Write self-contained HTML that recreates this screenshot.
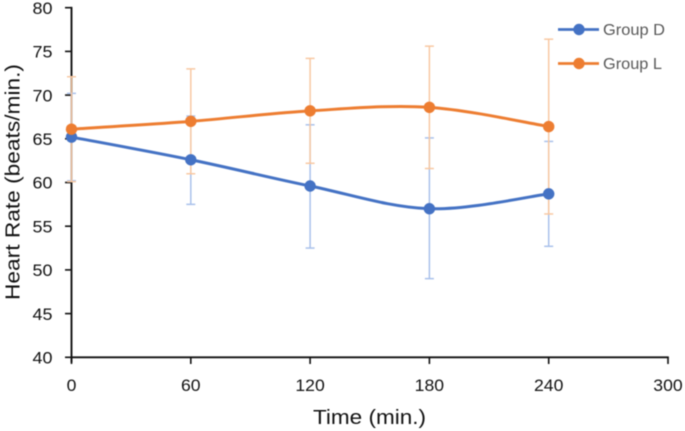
<!DOCTYPE html>
<html>
<head>
<meta charset="utf-8">
<style>
html,body{margin:0;padding:0;background:#fff;width:685px;height:431px;overflow:hidden}
svg{display:block;filter:blur(0.45px)}
text{font-family:"Liberation Sans",sans-serif}
</style>
</head>
<body>
<svg id="chart" width="685" height="431" viewBox="0 0 685 431" xmlns="http://www.w3.org/2000/svg"></svg>
<script>
const times = [0, 60, 120, 180, 240];
const groupD = [65.2, 62.6, 59.6, 57.0, 58.7];
const groupL = [66.1, 67.0, 68.2, 68.6, 66.4];
const groupDUpper = [70.2, 67.6, 66.6, 65.1, 64.7];
const groupDLower = [60.2, 57.5, 52.5, 49.0, 52.7];
const groupLUpper = [72.1, 73.0, 74.2, 75.6, 76.4];
const groupLLower = [60.1, 61.0, 62.2, 61.6, 56.4];
const xTicks = [0, 60, 120, 180, 240, 300];
const yTicks = [40, 45, 50, 55, 60, 65, 70, 75, 80];

const svg = document.getElementById('chart');
const NS = 'http://www.w3.org/2000/svg';
function xScale(v){ return 71.5 + (v - 0) * (668 - 71.5) / 300; }
function yScale(v){ return 357.3 - (v - 40) * (357.3 - 7.7) / 40; }
function make(tag, attrs, parent){
  const el = document.createElementNS(NS, tag);
  for (const k in attrs) el.setAttribute(k, attrs[k]);
  (parent || svg).appendChild(el);
  return el;
}
function smoothPath(xs, ys){
  const p = xs.map((x, i) => [xScale(x), yScale(ys[i])]);
  let d = 'M' + p[0][0] + ' ' + p[0][1];
  for (let i = 0; i < p.length - 1; i++){
    const a = p[Math.max(i - 1, 0)], b = p[i], c = p[i + 1], e = p[Math.min(i + 2, p.length - 1)];
    d += ' C' + (b[0] + (c[0] - a[0]) / 6) + ' ' + (b[1] + (c[1] - a[1]) / 6) + ' ' +
         (c[0] - (e[0] - b[0]) / 6) + ' ' + (c[1] - (e[1] - b[1]) / 6) + ' ' + c[0] + ' ' + c[1];
  }
  return d;
}

/* y axis */
const yAxis = make('g', {});


const yLine = make('line', {x1: xScale(0), x2: xScale(0), y1: yScale(80) - 0.8, y2: 362.5, stroke: '#111', 'stroke-width': 1.9}, yAxis);


yTicks.forEach(function(t){
  const tick = make('line', {x1: 65, x2: xScale(0), y1: yScale(t), y2: yScale(t), stroke: '#111', 'stroke-width': 1.6}, yAxis);
  
  
  const label = make('text', {x: 52.5, y: yScale(t) + 6.2, 'text-anchor': 'end', 'font-size': 17, fill: '#111', textLength: 20, lengthAdjust: 'spacingAndGlyphs'}, yAxis);
  label.textContent = t;
  
  
});

/* x axis */
const xAxis = make('g', {});


const xLine = make('line', {x1: xScale(0) - 1, x2: xScale(300) + 0.8, y1: yScale(40), y2: yScale(40), stroke: '#111', 'stroke-width': 1.9}, xAxis);


xTicks.forEach(function(t){
  const tick = make('line', {x1: xScale(t), x2: xScale(t), y1: yScale(40), y2: 364, stroke: '#111', 'stroke-width': 1.6}, xAxis);
  
  
  const s = String(t);
  const label = make('text', {x: xScale(t), y: 391, 'text-anchor': 'middle', 'font-size': 17, fill: '#111', textLength: s.length * 9.8, lengthAdjust: 'spacingAndGlyphs'}, xAxis);
  label.textContent = s;
  
  
});

/* series */
function drawErrors(name, upper, lower, color){
  const g = make('g', {stroke: color, 'stroke-width': 1.5, fill: 'none'});
  
  
  times.forEach(function(t, i){
    const x = xScale(t);
    make('line', {x1: x, x2: x, y1: yScale(upper[i]), y2: yScale(lower[i])}, g);
    make('line', {x1: x - 4.5, x2: x + 4.5, y1: yScale(upper[i]), y2: yScale(upper[i])}, g);
    make('line', {x1: x - 4.5, x2: x + 4.5, y1: yScale(lower[i]), y2: yScale(lower[i])}, g);
  });
}
function drawSeries(name, values, color){
  const g = make('g', {});
  
  
  make('path', {d: smoothPath(times, values), fill: 'none', stroke: color, 'stroke-width': 3, 'stroke-linecap': 'round'}, g);
  times.forEach(function(t, i){
    const c = make('circle', {cx: xScale(t), cy: yScale(values[i]), r: 5.7, fill: color}, g);
    
    
  });
}
drawErrors('group-d-error-bars', groupDUpper, groupDLower, '#A9C1EB');
drawErrors('group-l-error-bars', groupLUpper, groupLLower, '#F8C8A2');
drawSeries('group-d-series', groupD, '#4472C4');
drawSeries('group-l-series', groupL, '#ED7D31');
</script>
<script>
/* titles and legend */
(function(){
  const titleY = make('text', {transform: 'translate(19.5,182) rotate(-90)', 'text-anchor': 'middle', 'font-size': 20.5, fill: '#111', textLength: 236, lengthAdjust: 'spacingAndGlyphs'});
  titleY.textContent = 'Heart Rate (beats/min.)';
  
  

  const titleX = make('text', {x: 369.5, y: 424, 'text-anchor': 'middle', 'font-size': 20.5, fill: '#111', textLength: 113, lengthAdjust: 'spacingAndGlyphs'});
  titleX.textContent = 'Time (min.)';
  
  

  const legendNames = ['Group D', 'Group L'];
  const legendColors = ['#4472C4', '#ED7D31'];
  const legendRows = [29.5, 63.5];
  const legendWidths = [62, 59];
  legendNames.forEach(function(n, i){
    const g = make('g', {});
    
    
    make('line', {x1: 558, x2: 599, y1: legendRows[i], y2: legendRows[i], stroke: legendColors[i], 'stroke-width': 2.8}, g);
    make('circle', {cx: 579, cy: legendRows[i], r: 5.7, fill: legendColors[i]}, g);
    const t = make('text', {x: 603, y: legendRows[i] + 5.5, 'font-size': 15.5, fill: '#595959', textLength: legendWidths[i], lengthAdjust: 'spacingAndGlyphs'}, g);
    t.textContent = n;
  });
})();
</script>
</body>
</html>
